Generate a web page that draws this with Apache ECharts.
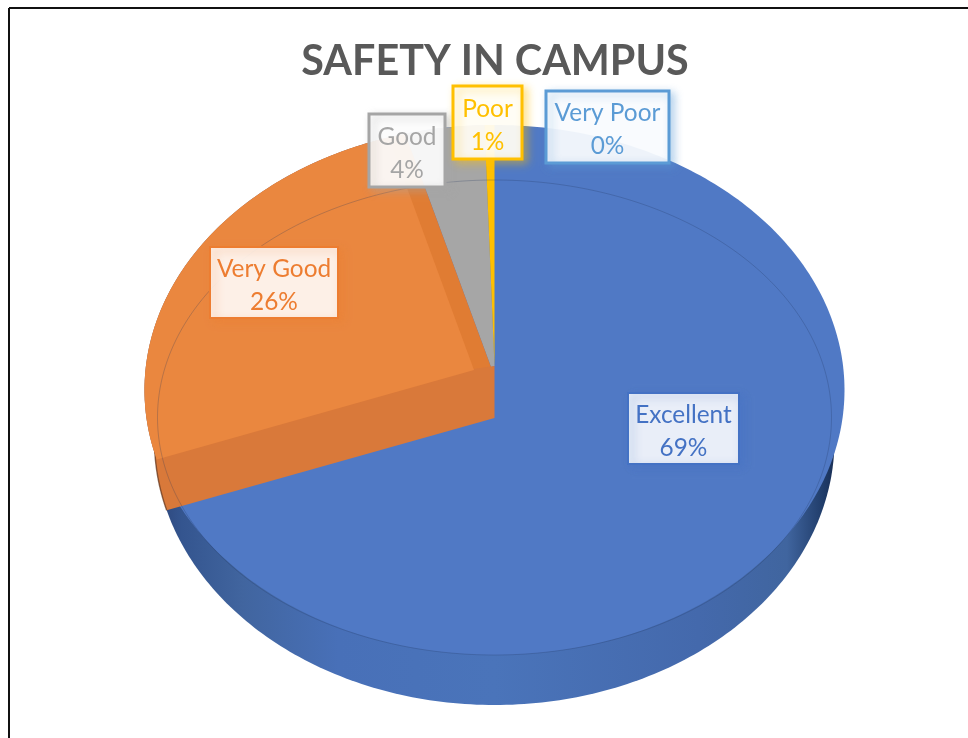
<!DOCTYPE html>
<html><head><meta charset="utf-8">
<style>html,body{margin:0;padding:0;background:#fff}#c{width:968px;height:738px}</style>
<script src="https://cdn.jsdelivr.net/npm/echarts@6/dist/echarts.min.js"></script>
</head><body><div id="c"></div>
<script>
const categories = ['Excellent','Very Good','Good','Poor','Very Poor'];
const values = [69.3, 26.4, 3.8, 0.5, 0];
const faceColors = ['#5079c5','#ea873f','#a6a6a6','#ffc000','#5b9bd5'];
const textColors = ['#4472c4','#ed7d31','#a5a5a5','#ffc000','#5b9bd5'];
const labelBoxes = [[628,393,111,71],[210,247,128,71],[369,114,76,73],[453,86,69,73],[546,91,123,72]];
const labelFrames = [2,2,3,3,3];

const rim = {cx:494.5, cy:390, rx:350, ry:265};
const base = {cx:494.5, cy:440, rx:340, ry:265};
const inner = {cx:494.5, cy:417.5, rx:337, ry:237.5};
const hub = [494.5, 418];
const RX = 348, RY = 262, K = 0.1057;

const total = values.reduce((a,b)=>a+b,0);
const edges = [0];
values.forEach(v=>edges.push(edges[edges.length-1]+v/total*2*Math.PI));

function project(t){
  const u=Math.sin(t), v=-Math.cos(t), w=1+K*v;
  return [hub[0]+RX*u/w, hub[1]+RY*v/w];
}
function hit(apex,t,e){
  const p=project(t);
  const dx=(p[0]-hub[0])/e.rx, dy=(p[1]-hub[1])/e.ry;
  const ax=(apex[0]-e.cx)/e.rx, ay=(apex[1]-e.cy)/e.ry;
  const A=dx*dx+dy*dy, B=2*(ax*dx+ay*dy), C=ax*ax+ay*ay-1;
  const s=(-B+Math.sqrt(B*B-4*A*C))/(2*A);
  return [apex[0]+s*(p[0]-hub[0]), apex[1]+s*(p[1]-hub[1])];
}
function arc(e,a,b){
  let f0=Math.atan2((a[1]-e.cy)/e.ry,(a[0]-e.cx)/e.rx);
  let f1=Math.atan2((b[1]-e.cy)/e.ry,(b[0]-e.cx)/e.rx);
  while(f1<f0) f1+=2*Math.PI;
  const n=Math.max(2,Math.ceil((f1-f0)*60)), out=[];
  for(let i=0;i<=n;i++){const f=f0+(f1-f0)*i/n; out.push([e.cx+e.rx*Math.cos(f),e.cy+e.ry*Math.sin(f)]);}
  return out;
}
function sector(apexA,apexB,ta,tb){
  const a=hit(apexA,ta,rim), b=hit(apexB,tb,rim);
  return [apexA].concat(arc(rim,a,b),[apexB]);
}
function ellipse(e){
  const out=[];
  for(let i=0;i<360;i++){const f=i/360*2*Math.PI; out.push([e.cx+e.rx*Math.cos(f),e.cy+e.ry*Math.sin(f)]);}
  return out;
}
function poly(points,fill,z2,extra){
  return {type:'polygon',z2,shape:{points},style:Object.assign({fill},extra||{})};
}
const raisedHub=[494.5,366], wallHub=[491,367], faceHub=[474,370];

function labelOf(i){
  const b=labelBoxes[i], f=labelFrames[i];
  return [
    {type:'rect',z2:50,shape:{x:b[0],y:b[1],width:b[2],height:b[3]},
     style:{fill:i<2?'rgba(255,255,255,0.88)':'rgba(255,255,255,0.9)',stroke:textColors[i],lineWidth:f,
            shadowBlur:8,shadowOffsetX:4,shadowOffsetY:3,shadowColor:echarts.color.modifyAlpha(textColors[i],0.45)}},
    {type:'text',z2:51,style:{text:categories[i]+'\n'+Math.round(values[i]/total*100)+'%',
      x:b[0]+b[2]/2,y:b[1]+b[3]/2+3,align:'center',verticalAlign:'middle',
      fill:textColors[i],font:'24.4px Lato',lineHeight:33}}
  ];
}
function renderItem(params){
  const i=params.dataIndex, ch=labelOf(i);
  const a=edges[i], b=edges[i+1];
  if(i===0){
    ch.push(poly(ellipse(base),new echarts.graphic.LinearGradient(0,0,1,0,[
      {offset:0,color:'#2c4478'},{offset:.04,color:'#34558f'},{offset:.13,color:'#41659f'},
      {offset:.27,color:'#4870b8'},{offset:.5,color:'#4a74ba'},{offset:.8,color:'#4469ac'},
      {offset:.93,color:'#40659f'},{offset:.985,color:'#1f3b68'},{offset:1,color:'#1a2f55'}]),1));
    ch.push(poly(ellipse(rim),faceColors[0],2));
    ch.push({type:'polygon',z2:30,shape:{points:ellipse(inner)},silent:true,
      style:{fill:'none',stroke:'rgba(30,50,90,0.25)',lineWidth:1}});
  } else if(i===1){
    ch.push(poly(sector(wallHub,wallHub,a,b),'#e07c33',10));
    const low=hit(hub,a,base);
    const side=arc(base,low,[base.cx-base.rx*0.99,base.cy-base.ry*0.1]);
    ch.push(poly([raisedHub,hub].concat(side),'#d9793a',11));
    ch.push({type:'polyline',z2:11,shape:{points:side},style:{fill:'none',stroke:'rgba(110,60,30,0.7)',lineWidth:1.5}});
    ch.push(poly(sector(faceHub,faceHub,a,b),faceColors[1],12));
  } else if(i===2){
    ch.push(poly(sector(wallHub,raisedHub,a,b),faceColors[2],5));
  } else if(i===3){
    ch.push(poly(sector(raisedHub,raisedHub,a,b),faceColors[3],6));
  }
  return {type:'group',children:ch};
}
const chart=echarts.init(document.getElementById('c'),null,{renderer:'canvas'});
chart.setOption({
  animation:false,
  backgroundColor:'#fff',
  title:{text:'SAFETY IN CAMPUS',left:490,textAlign:'center',top:36,
    textStyle:{color:'#595959',fontFamily:'Lato',fontWeight:'bold',fontSize:41.3}},
  graphic:[
    {type:'line',shape:{x1:9,y1:8,x2:968,y2:8},style:{stroke:'#111',lineWidth:2}},
    {type:'line',shape:{x1:9,y1:8,x2:9,y2:738},style:{stroke:'#111',lineWidth:2}}
  ],
  series:[{type:'custom',coordinateSystem:'none',renderItem,silent:true,
    data:categories.map((name,i)=>({name,value:values[i]}))}]
});
</script></body></html>
